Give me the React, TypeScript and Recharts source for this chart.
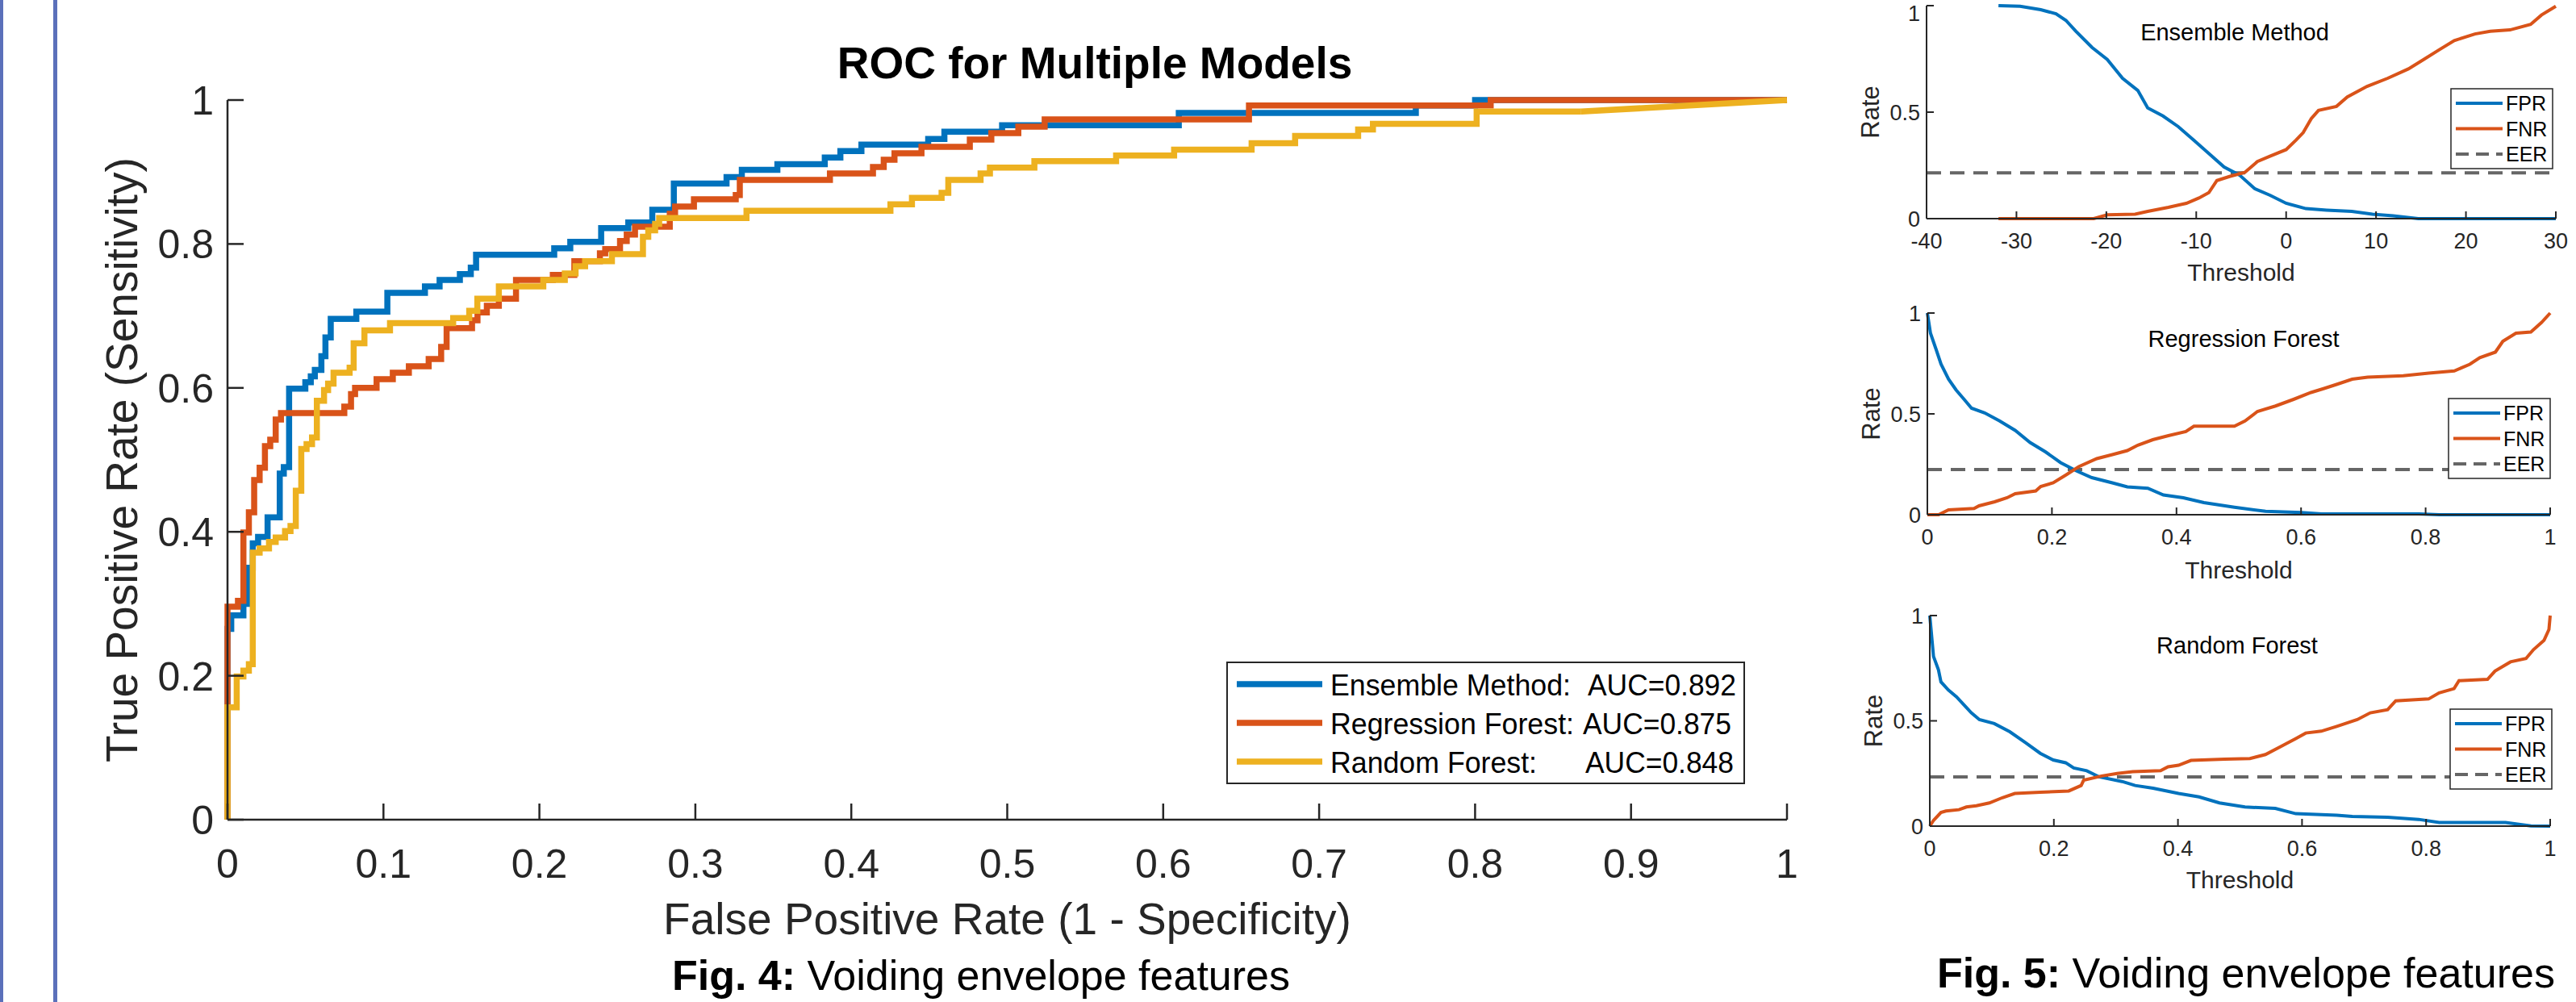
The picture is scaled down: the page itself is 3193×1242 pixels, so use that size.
import React from "react";
import { LineChart, Line, XAxis, YAxis, Legend, ReferenceLine } from "recharts";

const FONT = '"Liberation Sans", Arial, Helvetica, sans-serif';
const AXIS = "#262626";
const BLUE = "#0072BD";
const ORANGE = "#D95319";
const YELLOW = "#EDB120";
const GREY = "#666666";

// ROC corner points (FPR, TPR), drawn as steps
const ENSEMBLE_ROC: [number, number][] = [
  [0, 0], [0, 0.265], [0.0024, 0.284], [0.0102, 0.3], [0.0131, 0.35], [0.0162, 0.384],
  [0.0196, 0.393], [0.0257, 0.42], [0.0335, 0.481], [0.0361, 0.49], [0.0395, 0.599],
  [0.0499, 0.608], [0.0534, 0.616], [0.056, 0.625], [0.0602, 0.644], [0.0628, 0.67],
  [0.0662, 0.696], [0.0826, 0.706], [0.1025, 0.732], [0.1266, 0.741], [0.136, 0.75],
  [0.149, 0.758], [0.156, 0.767], [0.1594, 0.785], [0.2095, 0.794], [0.2198, 0.803],
  [0.2396, 0.822], [0.257, 0.83], [0.2724, 0.8475], [0.2862, 0.884], [0.32, 0.893],
  [0.3298, 0.903], [0.3526, 0.911], [0.383, 0.92], [0.393, 0.929], [0.4065, 0.938],
  [0.4493, 0.946], [0.4597, 0.956], [0.4967, 0.965], [0.61, 0.982], [0.762, 0.9925],
  [0.8, 1], [1, 1],
];
const REGRESSION_ROC: [number, number][] = [
  [0, 0], [0, 0.296], [0.0067, 0.304], [0.0102, 0.399], [0.0137, 0.427], [0.0171, 0.472],
  [0.0206, 0.489], [0.024, 0.519], [0.0274, 0.528], [0.0309, 0.556], [0.0343, 0.565],
  [0.0749, 0.574], [0.0792, 0.5915], [0.0818, 0.6], [0.0956, 0.612], [0.106, 0.621],
  [0.1163, 0.63], [0.129, 0.64], [0.137, 0.657], [0.1405, 0.683], [0.1568, 0.694],
  [0.1603, 0.705], [0.1663, 0.714], [0.174, 0.724], [0.185, 0.75], [0.2086, 0.757],
  [0.2224, 0.776], [0.2388, 0.787], [0.2422, 0.793], [0.2517, 0.804], [0.256, 0.813],
  [0.2613, 0.824], [0.2836, 0.842], [0.287, 0.852], [0.2991, 0.862], [0.3259, 0.868],
  [0.3285, 0.889], [0.3863, 0.898], [0.4139, 0.907], [0.4208, 0.917], [0.4277, 0.926],
  [0.445, 0.935], [0.476, 0.945], [0.4898, 0.954], [0.5071, 0.963], [0.524, 0.973],
  [0.655, 0.9925], [0.81, 1], [1, 1],
];
const RANDOM_ROC: [number, number][] = [
  [0, 0], [0, 0.156], [0.0059, 0.199], [0.0102, 0.207], [0.0137, 0.216], [0.0162, 0.371],
  [0.0206, 0.377], [0.0266, 0.386], [0.0309, 0.392], [0.0369, 0.401], [0.0404, 0.408],
  [0.0438, 0.457], [0.0473, 0.515], [0.0507, 0.522], [0.0542, 0.531], [0.0573, 0.582],
  [0.0619, 0.597], [0.0645, 0.606], [0.068, 0.621], [0.0783, 0.628], [0.0809, 0.662],
  [0.0878, 0.68], [0.1042, 0.69], [0.1447, 0.697], [0.155, 0.707], [0.1602, 0.724],
  [0.174, 0.741], [0.2025, 0.75], [0.2163, 0.759], [0.2232, 0.769], [0.2293, 0.776],
  [0.2465, 0.786], [0.2664, 0.81], [0.2698, 0.819], [0.2742, 0.828], [0.2768, 0.836],
  [0.3328, 0.846], [0.4251, 0.855], [0.4389, 0.864], [0.4579, 0.871], [0.4622, 0.889],
  [0.4829, 0.898], [0.4889, 0.906], [0.5174, 0.915], [0.5698, 0.923], [0.607, 0.931],
  [0.6567, 0.94], [0.6846, 0.95], [0.725, 0.959], [0.7345, 0.967], [0.801, 0.984],
  [0.868, 0.984],
];
// last piece of the random forest curve is a straight segment
const RANDOM_ROC_TAIL: [number, number][] = [[0.868, 0.984], [1, 1]];

const ROC_X_TICKS = [0, 0.1, 0.2, 0.3, 0.4, 0.5, 0.6, 0.7, 0.8, 0.9, 1];
const ROC_Y_TICKS = [0, 0.2, 0.4, 0.6, 0.8, 1];
const ROC_NAMES = ["Ensemble Method:", "Regression Forest:", "Random Forest:"];
const ROC_AUC = ["0.892", "0.875", "0.848"];
const ROC_COLORS = [BLUE, ORANGE, YELLOW];

// threshold panels: (threshold, rate)
const ENS_FPR: [number, number][] = [
  [-32, 1], [-29.6, 0.997], [-27.3, 0.981], [-25.6, 0.962], [-24.5, 0.931], [-23.4, 0.88],
  [-21.6, 0.804], [-19.9, 0.747], [-18.2, 0.659], [-16.5, 0.602], [-15.4, 0.52], [-13.7, 0.482],
  [-12, 0.432], [-10.3, 0.369], [-8.6, 0.306], [-6.9, 0.242], [-5.2, 0.205], [-3.5, 0.141],
  [-1.8, 0.11], [0, 0.072], [2.2, 0.047], [4.5, 0.04], [7.3, 0.034], [9.6, 0.021],
  [11.9, 0.013], [14.7, 0], [30, 0],
];
const ENS_FNR: [number, number][] = [
  [-32, 0], [-21.4, 0], [-19.9, 0.018], [-16.8, 0.021], [-15.4, 0.034], [-13.1, 0.053],
  [-11.1, 0.072], [-9.7, 0.097], [-8.6, 0.122], [-7.7, 0.179], [-6.3, 0.198], [-4.6, 0.217],
  [-3.2, 0.268], [-1.8, 0.293], [0, 0.324], [1.1, 0.369], [1.9, 0.404], [2.8, 0.47],
  [3.6, 0.508], [5.6, 0.527], [6.8, 0.571], [9, 0.621], [11.3, 0.659], [13.6, 0.703],
  [15.3, 0.747], [17, 0.792], [18.7, 0.836], [21, 0.867], [22.7, 0.88], [24.9, 0.886],
  [27.2, 0.912], [28.4, 0.956], [30, 0.997],
];
const REG_FPR: [number, number][] = [
  [0, 1], [0.005, 0.9], [0.014, 0.82], [0.022, 0.746], [0.034, 0.672], [0.046, 0.619],
  [0.059, 0.572], [0.071, 0.528], [0.092, 0.505], [0.116, 0.465], [0.141, 0.418],
  [0.165, 0.358], [0.19, 0.311], [0.214, 0.258], [0.239, 0.218], [0.264, 0.184],
  [0.297, 0.158], [0.321, 0.138], [0.354, 0.131], [0.379, 0.098], [0.411, 0.084],
  [0.444, 0.06], [0.493, 0.037], [0.543, 0.017], [0.6, 0.011], [0.633, 0.004],
  [0.789, 0.004], [0.822, 0], [1, 0],
];
const REG_FNR: [number, number][] = [
  [0, 0], [0.018, 0], [0.034, 0.024], [0.075, 0.031], [0.083, 0.044], [0.108, 0.064],
  [0.128, 0.084], [0.141, 0.104], [0.174, 0.118], [0.182, 0.14], [0.202, 0.158],
  [0.223, 0.198], [0.243, 0.238], [0.272, 0.278], [0.297, 0.298], [0.321, 0.318],
  [0.338, 0.345], [0.362, 0.372], [0.387, 0.392], [0.415, 0.412], [0.428, 0.439],
  [0.493, 0.439], [0.51, 0.465], [0.53, 0.512], [0.559, 0.539], [0.588, 0.572],
  [0.616, 0.606], [0.637, 0.626], [0.657, 0.646], [0.682, 0.672], [0.707, 0.682],
  [0.764, 0.689], [0.805, 0.702], [0.846, 0.713], [0.871, 0.746], [0.887, 0.779],
  [0.912, 0.806], [0.924, 0.86], [0.945, 0.9], [0.969, 0.906], [0.986, 0.953], [1, 1],
];
const RF_FPR: [number, number][] = [
  [0, 1], [0.006, 0.806], [0.014, 0.742], [0.018, 0.685], [0.03, 0.646], [0.043, 0.614],
  [0.055, 0.576], [0.067, 0.538], [0.08, 0.506], [0.104, 0.487], [0.129, 0.448],
  [0.154, 0.397], [0.178, 0.346], [0.199, 0.314], [0.219, 0.301], [0.232, 0.276],
  [0.253, 0.263], [0.273, 0.234], [0.31, 0.212], [0.331, 0.193], [0.36, 0.18],
  [0.401, 0.155], [0.434, 0.139], [0.467, 0.11], [0.508, 0.091], [0.557, 0.084],
  [0.59, 0.059], [0.656, 0.052], [0.681, 0.046], [0.738, 0.042], [0.788, 0.032],
  [0.821, 0.017], [0.928, 0.017], [0.969, 0.001], [1, 0],
];
const RF_FNR: [number, number][] = [
  [0, 0], [0.006, 0.027], [0.018, 0.065], [0.026, 0.072], [0.047, 0.078], [0.059, 0.091],
  [0.075, 0.097], [0.096, 0.11], [0.117, 0.135], [0.137, 0.155], [0.178, 0.161],
  [0.224, 0.167], [0.244, 0.193], [0.248, 0.218], [0.277, 0.238], [0.302, 0.25],
  [0.327, 0.259], [0.372, 0.263], [0.384, 0.282], [0.401, 0.289], [0.421, 0.312],
  [0.475, 0.318], [0.516, 0.321], [0.541, 0.34], [0.566, 0.378], [0.59, 0.416],
  [0.606, 0.442], [0.631, 0.451], [0.656, 0.474], [0.689, 0.506], [0.71, 0.538],
  [0.738, 0.553], [0.751, 0.595], [0.804, 0.604], [0.821, 0.633], [0.845, 0.653],
  [0.853, 0.691], [0.899, 0.697], [0.911, 0.736], [0.936, 0.78], [0.961, 0.796],
  [0.973, 0.838], [0.99, 0.882], [0.998, 0.934], [1, 1],
];
const EER = { ensemble: 0.215, regression: 0.224, random: 0.234 };

const THRESH_TICKS = [-40, -30, -20, -10, 0, 10, 20, 30];
const UNIT_TICKS = [0, 0.2, 0.4, 0.6, 0.8, 1];
const RATE_TICKS = [0, 0.5, 1];
const RATE_NAMES = ["FPR", "FNR", "EER"];

const toPts = (arr: [number, number][]) => arr.map(([x, y]) => ({ x, y }));

const makeXTick = (size: number, gap: number, len: number, sw: number) => (props: any) => {
  const { x, y, payload } = props;
  const base = y - gap;
  return (
    <g>
      <line x1={x} x2={x} y1={base} y2={base - len} stroke={AXIS} strokeWidth={sw} />
      <text x={x} y={y} dy="0.71em" textAnchor="middle" fontFamily={FONT} fontSize={size} fill={AXIS}>
        {String(payload.value)}
      </text>
    </g>
  );
};

const makeYTick = (size: number, gap: number, len: number, sw: number) => (props: any) => {
  const { x, y, payload } = props;
  const base = x + gap;
  // keep a label that sits at the very top of the page inside it
  const ty = Math.max(y, size * 0.6);
  return (
    <g>
      <line x1={base} x2={base + len} y1={y} y2={y} stroke={AXIS} strokeWidth={sw} />
      <text x={x} y={ty} dy="0.36em" textAnchor="end" fontFamily={FONT} fontSize={size} fill={AXIS}>
        {String(payload.value)}
      </text>
    </g>
  );
};

// main ROC chart geometry (page px)
const MAIN = { width: 2300, height: 1180, x0: 282, x1: 2215, y0: 124, y1: 1016 };
const MAIN_YW = 150;
const MAIN_XH = 130;

// legend text widths
const NAME_W = [298, 302, 256];
const AUC_X = [448, 442, 445];

const RocLegend = () => (
  <svg width={643} height={152} style={{ display: "block" }}>
    <rect x={1} y={1} width={641} height={150} fill="#fff" stroke={AXIS} strokeWidth={2} />
    {ROC_NAMES.map((name, i) => {
      const cy = 28 + i * 48;
      return (
        <g key={name}>
          <line x1={13} x2={119} y1={cy} y2={cy} stroke={ROC_COLORS[i]} strokeWidth={7.5} />
          <text
            x={129}
            y={cy + 13.5}
            fontFamily={FONT}
            fontSize={37}
            fill="#000"
            textLength={NAME_W[i]}
            lengthAdjust="spacingAndGlyphs"
          >
            {name}
          </text>
          <text
            x={AUC_X[i]}
            y={cy + 13.5}
            fontFamily={FONT}
            fontSize={37}
            fill="#000"
            textLength={184}
            lengthAdjust="spacingAndGlyphs"
          >
            AUC={ROC_AUC[i]}
          </text>
        </g>
      );
    })}
  </svg>
);

const RocChart = () => (
  <LineChart
    width={MAIN.width}
    height={MAIN.height}
    margin={{
      top: MAIN.y0,
      right: MAIN.width - MAIN.x1,
      bottom: MAIN.height - MAIN.y1 - MAIN_XH,
      left: MAIN.x0 - MAIN_YW,
    }}
  >
    <XAxis
      type="number"
      dataKey="x"
      domain={[0, 1]}
      ticks={ROC_X_TICKS}
      interval={0}
      height={MAIN_XH}
      tickSize={0}
      tickMargin={36}
      tickLine={false}
      axisLine={{ stroke: AXIS, strokeWidth: 2.5 }}
      tick={makeXTick(50, 36, 20, 2.5)}
      label={() => (
        <text x={(MAIN.x0 + MAIN.x1) / 2} y={1158} textAnchor="middle" fontFamily={FONT} fontSize={55} fill={AXIS}>
          False Positive Rate (1 - Specificity)
        </text>
      )}
    />
    <YAxis
      type="number"
      domain={[0, 1]}
      ticks={ROC_Y_TICKS}
      interval={0}
      width={MAIN_YW}
      tickSize={0}
      tickMargin={17}
      tickLine={false}
      axisLine={{ stroke: AXIS, strokeWidth: 2.5 }}
      tick={makeYTick(50, 17, 20, 2.5)}
      label={() => (
        <text
          x={MAIN.x0 - 112}
          y={570}
          transform={`rotate(-90 ${MAIN.x0 - 112} 570)`}
          textAnchor="middle"
          fontFamily={FONT}
          fontSize={55}
          fill={AXIS}
        >
          True Positive Rate (Sensitivity)
        </text>
      )}
    />
    <Legend
      layout="horizontal"
      verticalAlign="middle"
      align="center"
      content={() => <RocLegend />}
      wrapperStyle={{ left: 1520, top: 820, width: 643, height: 152 }}
    />
    <Line data={toPts(ENSEMBLE_ROC)} dataKey="y" type="stepAfter" stroke={BLUE} strokeWidth={7.5} dot={false} isAnimationActive={false} />
    <Line data={toPts(REGRESSION_ROC)} dataKey="y" type="stepAfter" stroke={ORANGE} strokeWidth={7.5} dot={false} isAnimationActive={false} />
    <Line data={toPts(RANDOM_ROC)} dataKey="y" type="stepAfter" stroke={YELLOW} strokeWidth={7.5} dot={false} isAnimationActive={false} />
    <Line data={toPts(RANDOM_ROC_TAIL)} dataKey="y" type="linear" stroke={YELLOW} strokeWidth={7.5} dot={false} isAnimationActive={false} />
  </LineChart>
);

type PanelProps = {
  left: number;
  top: number;
  width: number;
  height: number;
  x0: number;
  x1: number;
  y0: number;
  y1: number;
  xDomain: [number, number];
  xTicks: number[];
  fpr: [number, number][];
  fnr: [number, number][];
  eer: number;
  xLabelY: number;
  legendX: number;
  legendY: number;
};

const P_YW = 80;
const P_XH = 80;

const RateLegend = () => (
  <svg width={128} height={101} style={{ display: "block" }}>
    <rect x={1} y={1} width={126} height={99} fill="#fff" stroke={AXIS} strokeWidth={1.5} />
    {RATE_NAMES.map((name, i) => {
      const cy = 19 + i * 31.5;
      const color = [BLUE, ORANGE, GREY][i];
      return (
        <g key={name}>
          <line
            x1={7}
            x2={65}
            y1={cy}
            y2={cy}
            stroke={color}
            strokeWidth={4}
            strokeDasharray={name === "EER" ? "16 9" : undefined}
          />
          <text x={69} y={cy + 9} fontFamily={FONT} fontSize={25} fill="#000">{name}</text>
        </g>
      );
    })}
  </svg>
);

const RatePanel = (p: PanelProps) => {
  const yLabelX = p.x0 - 59 - p.left;
  const yMid = (p.y0 + p.y1) / 2 - p.top;
  return (
    <div style={{ position: "absolute", left: p.left, top: p.top }}>
      <LineChart
        width={p.width}
        height={p.height}
        margin={{
          top: p.y0 - p.top,
          right: p.left + p.width - p.x1,
          bottom: p.top + p.height - p.y1 - P_XH,
          left: p.x0 - p.left - P_YW,
        }}
      >
        <XAxis
          type="number"
          dataKey="x"
          domain={p.xDomain}
          ticks={p.xTicks}
          interval={0}
          height={P_XH}
          tickSize={0}
          tickMargin={18}
          tickLine={false}
          axisLine={{ stroke: AXIS, strokeWidth: 2 }}
          tick={makeXTick(27, 18, 9, 2)}
          label={() => (
            <text
              x={(p.x0 + p.x1) / 2 - p.left}
              y={p.xLabelY - p.top}
              textAnchor="middle"
              fontFamily={FONT}
              fontSize={30}
              fill={AXIS}
            >
              Threshold
            </text>
          )}
        />
        <YAxis
          type="number"
          domain={[0, 1]}
          ticks={RATE_TICKS}
          interval={0}
          width={P_YW}
          tickSize={0}
          tickMargin={8}
          tickLine={false}
          axisLine={{ stroke: AXIS, strokeWidth: 2 }}
          tick={makeYTick(27, 8, 9, 2)}
          label={() => (
            <text
              x={yLabelX}
              y={yMid}
              transform={`rotate(-90 ${yLabelX} ${yMid})`}
              textAnchor="middle"
              fontFamily={FONT}
              fontSize={31}
              fill={AXIS}
            >
              Rate
            </text>
          )}
        />
        <ReferenceLine y={p.eer} stroke={GREY} strokeWidth={4} strokeDasharray="18 11" />
        <Line data={toPts(p.fpr)} dataKey="y" type="linear" stroke={BLUE} strokeWidth={4} dot={false} isAnimationActive={false} />
        <Line data={toPts(p.fnr)} dataKey="y" type="linear" stroke={ORANGE} strokeWidth={4} dot={false} isAnimationActive={false} />
        <Legend
          layout="horizontal"
          verticalAlign="middle"
          align="center"
          content={() => <RateLegend />}
          wrapperStyle={{ left: p.legendX - p.left, top: p.legendY - p.top, width: 128, height: 101 }}
        />
      </LineChart>
    </div>
  );
};

const PANELS: (PanelProps & { title: string; titleX: number; titleY: number })[] = [
  {
    title: "Ensemble Method", titleX: 2770, titleY: 50,
    left: 2200, top: 0, width: 993, height: 370, x0: 2388, x1: 3168, y0: 7, y1: 271,
    xDomain: [-40, 30], xTicks: THRESH_TICKS, fpr: ENS_FPR, fnr: ENS_FNR, eer: EER.ensemble,
    xLabelY: 348, legendX: 3037, legendY: 109,
  },
  {
    title: "Regression Forest", titleX: 2781, titleY: 430,
    left: 2200, top: 372, width: 993, height: 370, x0: 2389, x1: 3161, y0: 388, y1: 638,
    xDomain: [0, 1], xTicks: UNIT_TICKS, fpr: REG_FPR, fnr: REG_FNR, eer: EER.regression,
    xLabelY: 717, legendX: 3034, legendY: 493,
  },
  {
    title: "Random Forest", titleX: 2773, titleY: 810,
    left: 2200, top: 745, width: 993, height: 400, x0: 2392, x1: 3161, y0: 763, y1: 1024,
    xDomain: [0, 1], xTicks: UNIT_TICKS, fpr: RF_FPR, fnr: RF_FNR, eer: EER.random,
    xLabelY: 1101, legendX: 3036, legendY: 878,
  },
];

export default function App() {
  return (
    <div
      style={{
        position: "absolute",
        left: 0,
        top: 0,
        width: 3193,
        height: 1242,
        background: "#fff",
        overflow: "hidden",
        fontFamily: FONT,
      }}
    >
      <div style={{ position: "absolute", left: 0, top: 0, width: 4, height: 1242, background: "#5B70BA" }} />
      <div style={{ position: "absolute", left: 66, top: 0, width: 5, height: 1242, background: "#5B70BA" }} />

      <div style={{ position: "absolute", left: 0, top: 0 }}>
        <RocChart />
      </div>

      {PANELS.map((p) => (
        <RatePanel key={p.title} {...p} />
      ))}

      <svg
        width={3193}
        height={1242}
        style={{ position: "absolute", left: 0, top: 0, pointerEvents: "none" }}
      >
        <text x={1357} y={97} textAnchor="middle" fontFamily={FONT} fontSize={55} fontWeight="bold" fill="#000">
          ROC for Multiple Models
        </text>
        {PANELS.map((p) => (
          <text key={p.title} x={p.titleX} y={p.titleY} textAnchor="middle" fontFamily={FONT} fontSize={29} fill="#000">
            {p.title}
          </text>
        ))}
        <text x={1216} y={1227} textAnchor="middle" fontFamily={FONT} fontSize={52} fill="#000">
          <tspan fontWeight="bold">Fig. 4:</tspan> Voiding envelope features
        </text>
        <text x={2784} y={1224} textAnchor="middle" fontFamily={FONT} fontSize={52} fill="#000">
          <tspan fontWeight="bold">Fig. 5:</tspan> Voiding envelope features
        </text>
      </svg>
    </div>
  );
}
